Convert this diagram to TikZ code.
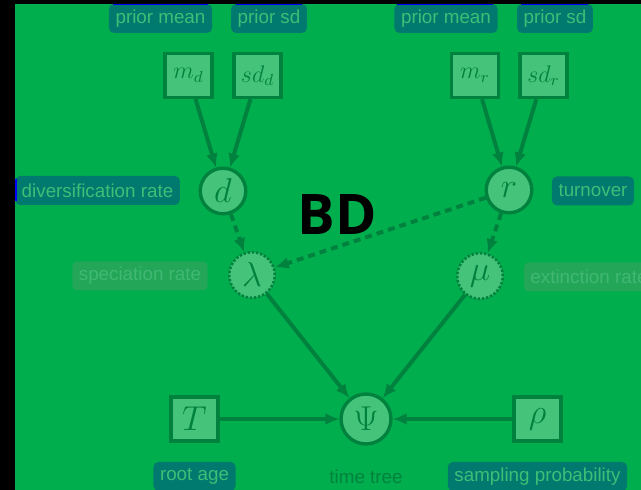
\documentclass[tikz,border=0pt]{standalone}
\usepackage{fontspec}
\setsansfont{Liberation Sans}
\newfontfamily\bdfont{Open Sans}
\definecolor{mlbg}{RGB}{0,174,77}
\definecolor{mlfill}{RGB}{70,195,122}
\definecolor{mledge}{RGB}{0,130,62}
\definecolor{mlteal}{RGB}{0,122,110}
\definecolor{mltagtext}{RGB}{62,190,118}
\definecolor{mlfadefill}{RGB}{36,166,88}
\definecolor{mlfadetext}{RGB}{64,184,116}
\usetikzlibrary{arrows.meta}

\begin{document}
\begin{tikzpicture}[x=0.5pt, y=-0.5pt,
    tag/.style={fill=mlteal, text=mltagtext, rounded corners=2.5pt, inner xsep=3.3pt, inner ysep=0pt,
      minimum height=14.5pt, font=\sffamily\fontsize{9.4}{11}\selectfont},
    fadetag/.style={tag, fill=mlfadefill, text=mlfadetext},
    const/.style={draw=mledge, fill=mlfill, text=mledge, line width=1.7pt, minimum width=23.5pt,
      minimum height=22pt, inner sep=2pt, font=\large},
    rv/.style={circle, draw=mledge, fill=mlfill, text=mledge, line width=1.7pt, minimum size=22.8pt,
      inner sep=0pt, font=\LARGE},
    det/.style={rv, line width=1.3pt, dash pattern=on 1.2pt off 0.9pt},
    link/.style={draw=mledge, line width=2pt, -{Latex[length=7pt,width=6pt]}},
    dlink/.style={link, dash pattern=on 3.5pt off 2.5pt}]
    \useasboundingbox (0,0) rectangle (641,490);
    \clip (0,0) rectangle (641,490);

    % Background with black strips
    \fill[black] (0,0) rectangle (641,490);
    \fill[mlbg] (15,4) rectangle (641,490);

    % Tags
    \node[tag] (meanD) at (160.5,18.5) {prior mean};
    \node[tag] (sdtagD) at (269,18.5) {prior sd};
    \node[tag] (meanR) at (446,18.5) {prior mean};
    \node[tag] (sdtagR) at (555,18.5) {prior sd};
    \node[tag] (divrate) at (97.5,190.5) {diversification rate};
    \node[tag] (turnover) at (593,191) {turnover};
    \node[fadetag] (specrate) at (140,276) {speciation rate};
    \node[fadetag] (extrate) at (589,277) {extinction rate};
    \node[tag] (rootage) at (194.5,476.5) {root age};
    \node[tag] (sampprob) at (537.5,476.5) {sampling probability};
    \node[text=mledge, font=\sffamily\fontsize{9.4}{11}\selectfont] (timetree) at (366,477) {time tree};

    % Blue edge marks
    \fill[blue] (113,4) rectangle (208,5.5);
    \fill[blue] (236,4) rectangle (302,5.5);
    \fill[blue] (397,4) rectangle (493,5.5);
    \fill[blue] (521,4) rectangle (588,5.5);
    \fill[blue] (15,179) rectangle (16.5,201);

    % Parameters
    \node[const] (md) at (188.5,75.5) {$m_d$};
    \node[const] (sdd) at (257.5,75.5) {$sd_d$};
    \node[const] (mr) at (475,75.5) {$m_r$};
    \node[const] (sdr) at (543.5,75.5) {$sd_r$};
    \node[rv] (d) at (223,191) {$d$};
    \node[rv] (r) at (509,190) {$r$};
    \node[det] (lambda) at (252,275) {$\lambda$};
    \node[det] (mu) at (480,276) {$\mu$};
    \node[rv, minimum size=25pt] (psi) at (366,419) {$\Psi$};
    \node[const, font=\LARGE] (T) at (194.5,419) {$T$};
    \node[const, font=\LARGE] (rho) at (537.5,419) {$\rho$};

    % Connectors
    \draw[link] (md) -- (d);
    \draw[link] (sdd) -- (d);
    \draw[link] (mr) -- (r);
    \draw[link] (sdr) -- (r);
    \draw[dlink] (d) -- (lambda);
    \draw[dlink] (r) -- (lambda);
    \draw[dlink] (r) -- (mu);
    \draw[link] (lambda) -- (psi);
    \draw[link] (mu) -- (psi);
    \draw[link] (T) -- (psi);
    \draw[link] (rho) -- (psi);

    % Title
    \node[font=\bdfont\bfseries\fontsize{28}{30}\selectfont] (bd) at (337,215) {BD};
\end{tikzpicture}
\end{document}
